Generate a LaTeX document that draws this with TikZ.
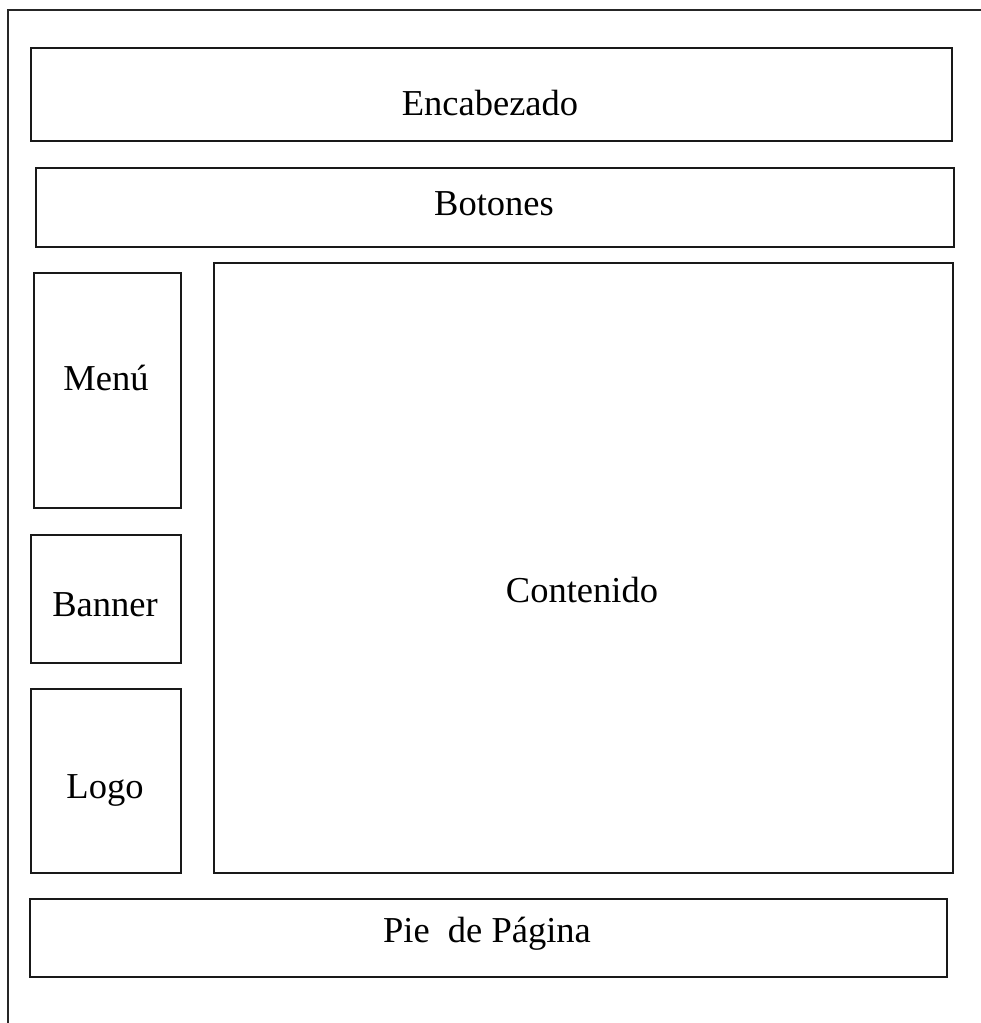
\documentclass[tikz,border=0pt]{standalone}
\usepackage{fontspec}
\setmainfont{Liberation Serif}
\begin{document}
\begin{tikzpicture}[x=1pt,y=-1pt,
  box/.style={draw=black!90, line width=2pt, inner sep=0pt, anchor=north west},
  lbl/.style={font=\fontsize{36.5}{40}\selectfont, anchor=base, inner sep=0pt},
  frame/.style={draw=black!85, line width=1.8pt}]
\useasboundingbox (0,0) rectangle (981,1023);
% outer frame (top and left edges only)
\coordinate (ftr) at (981,10);
\coordinate (ftl) at (8,10);
\coordinate (fbl) at (8,1023);
\draw[frame] (ftr) -- (ftl) -- (fbl);
% boxes
\node[box, minimum width=921pt, minimum height=93pt] (enc) at (30,47) {};
\node[box, minimum width=918pt, minimum height=79pt] (bot) at (35,167) {};
\node[box, minimum width=147pt, minimum height=235pt] (men) at (33,272) {};
\node[box, minimum width=150pt, minimum height=128pt] (ban) at (30,534) {};
\node[box, minimum width=150pt, minimum height=184pt] (log) at (30,688) {};
\node[box, minimum width=739pt, minimum height=610pt] (con) at (213,262) {};
\node[box, minimum width=917pt, minimum height=78pt] (pie) at (29,898) {};
% labels
\node[lbl] (tenc) at (490,115) {Encabezado};
\node[lbl] (tbot) at (494,215) {Botones};
\node[lbl] (tmen) at (106,390) {Menú};
\node[lbl] (tban) at (105,616) {Banner};
\node[lbl] (tlog) at (105,798) {Logo};
\node[lbl] (tcon) at (582,602) {Contenido};
\node[lbl] (tpie) at (487,942) {Pie\ \ de Página};
\end{tikzpicture}
\end{document}
